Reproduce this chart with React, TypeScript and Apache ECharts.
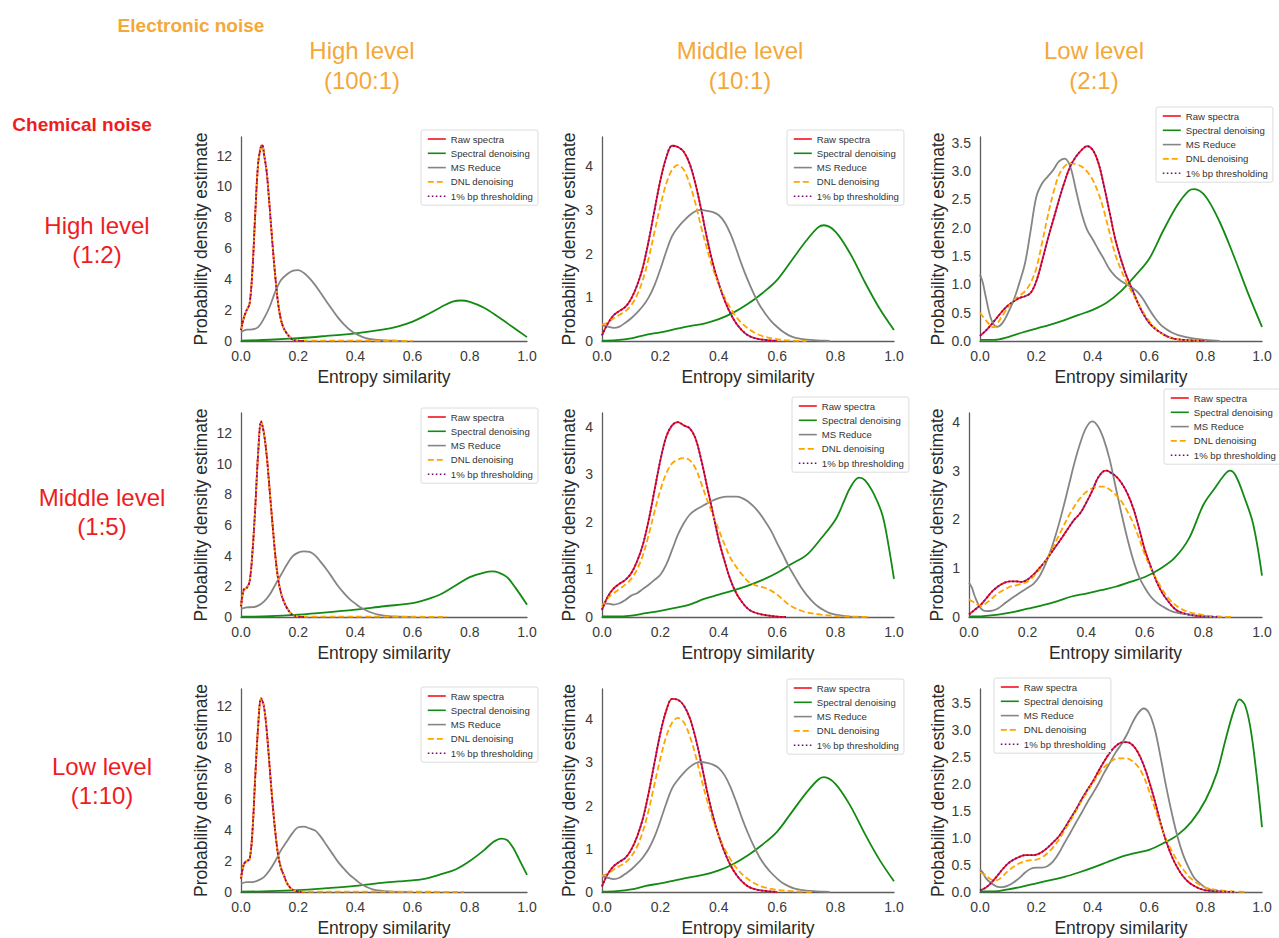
import React, { useEffect, useRef } from 'react';
import * as echarts from 'echarts';

type P = [number, number][];

const SERIES_NAMES = ['Raw spectra', 'Spectral denoising', 'MS Reduce', 'DNL denoising', '1% bp thresholding'];
const COL_TITLES = [['High level', '(100:1)'], ['Middle level', '(10:1)'], ['Low level', '(2:1)']];
const ROW_TITLES = [['High level', '(1:2)'], ['Middle level', '(1:5)'], ['Low level', '(1:10)']];
const X_NAME = 'Entropy similarity';
const Y_NAME = 'Probability density estimate';

// ---------- Row 1 (chemical noise high 1:2) ----------
const r1c1_raw: P = [[0,0.7],[0.01,1.5],[0.02,2.0],[0.03,2.4],[0.04,4.6],[0.05,8.3],[0.06,11.5],[0.07,12.6],[0.075,12.65],[0.08,12.15],[0.09,10.9],[0.1,8.7],[0.11,6.3],[0.12,4.15],[0.13,2.4],[0.14,1.35],[0.15,0.8],[0.16,0.5],[0.17,0.26],[0.18,0.1],[0.2,0.02],[0.22,0]];
const r1c1_dnl: P = [[0,0.7],[0.01,1.5],[0.02,2.0],[0.03,2.4],[0.04,4.6],[0.05,8.3],[0.06,11.5],[0.07,12.6],[0.075,12.65],[0.08,12.15],[0.09,10.9],[0.1,8.7],[0.11,6.3],[0.12,4.15],[0.13,2.4],[0.14,1.35],[0.15,0.8],[0.16,0.5],[0.17,0.26],[0.18,0.1],[0.2,0.03],[0.25,0.02],[0.4,0.02],[0.6,0.01]];
const r1c1_thr: P = r1c1_raw;
const r1c1_msr: P = [[0,0.58],[0.02,0.73],[0.04,0.75],[0.06,0.9],[0.08,1.45],[0.1,2.2],[0.12,3.2],[0.14,3.95],[0.16,4.3],[0.18,4.54],[0.2,4.58],[0.22,4.4],[0.24,4.05],[0.26,3.6],[0.28,3.07],[0.3,2.53],[0.32,2.0],[0.34,1.5],[0.36,1.08],[0.38,0.73],[0.4,0.48],[0.42,0.3],[0.44,0.17],[0.46,0.1],[0.5,0.04],[0.55,0.01],[0.58,0]];
const r1c1_spec: P = [[0,0.02],[0.1,0.08],[0.2,0.18],[0.3,0.33],[0.4,0.5],[0.5,0.75],[0.55,0.95],[0.6,1.25],[0.65,1.7],[0.7,2.2],[0.74,2.55],[0.77,2.62],[0.8,2.53],[0.85,2.15],[0.9,1.55],[0.95,0.9],[1.0,0.25]];

const r1c2_raw: P = [[0,0.13],[0.02,0.4],[0.04,0.59],[0.06,0.69],[0.08,0.78],[0.1,0.97],[0.12,1.27],[0.14,1.69],[0.16,2.3],[0.18,3.0],[0.2,3.68],[0.22,4.2],[0.24,4.47],[0.26,4.44],[0.28,4.33],[0.3,4.06],[0.32,3.6],[0.34,3.0],[0.36,2.34],[0.38,1.77],[0.4,1.31],[0.42,0.93],[0.44,0.63],[0.46,0.4],[0.48,0.24],[0.5,0.13],[0.52,0.07],[0.55,0.03],[0.6,0]];
const r1c2_dnl: P = [[0,0.38],[0.02,0.42],[0.04,0.52],[0.06,0.6],[0.08,0.68],[0.1,0.82],[0.12,1.05],[0.14,1.4],[0.16,1.9],[0.18,2.5],[0.2,3.1],[0.22,3.6],[0.24,3.92],[0.26,4.03],[0.28,3.92],[0.3,3.6],[0.32,3.15],[0.34,2.6],[0.36,2.1],[0.38,1.65],[0.4,1.3],[0.42,1.0],[0.44,0.75],[0.46,0.55],[0.48,0.4],[0.5,0.29],[0.52,0.2],[0.55,0.11],[0.6,0.04],[0.65,0.01],[0.7,0]];
const r1c2_thr: P = r1c2_raw;
const r1c2_msr: P = [[0,0.36],[0.02,0.33],[0.04,0.3],[0.06,0.33],[0.08,0.42],[0.1,0.52],[0.12,0.65],[0.14,0.8],[0.16,1.0],[0.18,1.28],[0.2,1.65],[0.22,2.05],[0.24,2.4],[0.26,2.6],[0.28,2.75],[0.3,2.88],[0.32,2.97],[0.34,3.0],[0.36,2.98],[0.38,2.95],[0.4,2.88],[0.42,2.72],[0.44,2.45],[0.46,2.1],[0.48,1.72],[0.5,1.38],[0.52,1.08],[0.54,0.82],[0.56,0.62],[0.58,0.45],[0.6,0.32],[0.62,0.21],[0.64,0.13],[0.66,0.08],[0.7,0.03],[0.75,0.01],[0.78,0]];
const r1c2_spec: P = [[0,0.01],[0.05,0.02],[0.1,0.06],[0.15,0.14],[0.2,0.2],[0.25,0.27],[0.3,0.34],[0.35,0.4],[0.4,0.5],[0.45,0.65],[0.5,0.85],[0.55,1.1],[0.6,1.4],[0.65,1.85],[0.7,2.3],[0.74,2.6],[0.76,2.65],[0.8,2.5],[0.85,2.0],[0.9,1.35],[0.95,0.75],[1.0,0.25]];

const r1c3_raw: P = [[0,0.09],[0.02,0.18],[0.04,0.29],[0.06,0.41],[0.08,0.53],[0.1,0.63],[0.12,0.7],[0.14,0.76],[0.16,0.79],[0.18,0.85],[0.2,1.06],[0.22,1.41],[0.24,1.79],[0.26,2.14],[0.28,2.49],[0.3,2.81],[0.32,3.08],[0.34,3.25],[0.36,3.37],[0.38,3.44],[0.4,3.37],[0.42,3.14],[0.44,2.73],[0.46,2.26],[0.48,1.79],[0.5,1.44],[0.52,1.14],[0.54,0.91],[0.56,0.67],[0.58,0.47],[0.6,0.32],[0.62,0.22],[0.64,0.15],[0.66,0.09],[0.68,0.05],[0.7,0.03],[0.75,0.01],[0.8,0]];
const r1c3_dnl: P = [[0,0.5],[0.02,0.37],[0.04,0.26],[0.05,0.24],[0.06,0.3],[0.08,0.45],[0.1,0.6],[0.12,0.72],[0.14,0.8],[0.16,0.88],[0.18,1.03],[0.2,1.29],[0.22,1.73],[0.24,2.2],[0.26,2.61],[0.28,2.93],[0.3,3.08],[0.32,3.14],[0.34,3.12],[0.36,3.08],[0.38,2.99],[0.4,2.84],[0.42,2.61],[0.44,2.29],[0.46,1.9],[0.48,1.52],[0.5,1.26],[0.52,1.03],[0.54,0.85],[0.56,0.67],[0.58,0.5],[0.6,0.35],[0.62,0.23],[0.64,0.15],[0.66,0.09],[0.7,0.03],[0.75,0.01],[0.8,0]];
const r1c3_thr: P = r1c3_raw;
const r1c3_msr: P = [[0,1.17],[0.01,1.03],[0.02,0.79],[0.04,0.38],[0.06,0.25],[0.08,0.32],[0.1,0.5],[0.12,0.73],[0.14,1.03],[0.16,1.38],[0.18,1.96],[0.2,2.55],[0.22,2.78],[0.24,2.9],[0.26,3.02],[0.28,3.17],[0.3,3.22],[0.32,3.08],[0.34,2.67],[0.36,2.26],[0.38,1.96],[0.4,1.79],[0.42,1.61],[0.44,1.44],[0.46,1.26],[0.48,1.14],[0.5,1.06],[0.52,1.0],[0.54,0.94],[0.56,0.86],[0.58,0.73],[0.6,0.56],[0.62,0.41],[0.64,0.29],[0.66,0.21],[0.68,0.15],[0.7,0.11],[0.75,0.05],[0.8,0.02],[0.85,0]];
const r1c3_spec: P = [[0,0.02],[0.05,0.02],[0.1,0.07],[0.15,0.15],[0.2,0.22],[0.25,0.29],[0.3,0.37],[0.35,0.46],[0.4,0.55],[0.45,0.68],[0.5,0.88],[0.55,1.15],[0.6,1.45],[0.65,1.95],[0.7,2.4],[0.74,2.65],[0.76,2.68],[0.8,2.55],[0.85,2.1],[0.9,1.5],[0.95,0.85],[1.0,0.25]];

// ---------- Row 2 (chemical noise middle 1:5) ----------
const r2c1_raw: P = [[0,0.7],[0.01,1.8],[0.02,1.9],[0.03,2.3],[0.04,4.2],[0.05,7.2],[0.06,10.7],[0.07,12.75],[0.08,12.0],[0.09,10.5],[0.1,8.3],[0.11,6.1],[0.12,4.0],[0.13,2.45],[0.14,1.55],[0.15,1.0],[0.16,0.6],[0.17,0.33],[0.18,0.15],[0.2,0.03],[0.22,0]];
const r2c1_dnl: P = [[0,0.7],[0.01,1.8],[0.02,1.9],[0.03,2.3],[0.04,4.2],[0.05,7.2],[0.06,10.7],[0.07,12.75],[0.08,12.0],[0.09,10.5],[0.1,8.3],[0.11,6.1],[0.12,4.0],[0.13,2.45],[0.14,1.55],[0.15,1.0],[0.16,0.6],[0.17,0.33],[0.18,0.15],[0.2,0.04],[0.25,0.02],[0.45,0.02],[0.72,0.01]];
const r2c1_thr: P = r2c1_raw;
const r2c1_msr: P = [[0,0.52],[0.02,0.63],[0.04,0.64],[0.06,0.74],[0.08,1.0],[0.1,1.45],[0.12,2.1],[0.14,2.75],[0.16,3.4],[0.18,3.95],[0.2,4.2],[0.22,4.28],[0.24,4.24],[0.26,4.0],[0.28,3.56],[0.3,3.08],[0.32,2.55],[0.34,2.0],[0.36,1.56],[0.38,1.17],[0.4,0.87],[0.42,0.6],[0.44,0.41],[0.46,0.26],[0.48,0.15],[0.5,0.09],[0.55,0.02],[0.6,0]];
const r2c1_spec: P = [[0,0.02],[0.1,0.05],[0.2,0.15],[0.3,0.3],[0.4,0.48],[0.5,0.7],[0.6,0.9],[0.65,1.15],[0.7,1.5],[0.75,2.05],[0.8,2.6],[0.85,2.9],[0.88,2.97],[0.9,2.9],[0.93,2.6],[0.96,1.9],[1.0,0.8]];

const r2c2_raw: P = [[0,0.15],[0.02,0.43],[0.04,0.6],[0.06,0.7],[0.08,0.78],[0.1,0.92],[0.12,1.17],[0.14,1.52],[0.16,2.04],[0.18,2.67],[0.2,3.3],[0.22,3.79],[0.24,4.03],[0.26,4.1],[0.28,4.03],[0.3,3.97],[0.32,3.76],[0.34,3.3],[0.36,2.74],[0.38,2.18],[0.4,1.62],[0.42,1.17],[0.44,0.78],[0.46,0.5],[0.48,0.31],[0.5,0.17],[0.52,0.1],[0.55,0.05],[0.6,0.01],[0.63,0]];
const r2c2_dnl: P = [[0,0.22],[0.02,0.4],[0.04,0.5],[0.06,0.59],[0.08,0.68],[0.1,0.8],[0.12,1.0],[0.14,1.3],[0.16,1.73],[0.18,2.22],[0.2,2.67],[0.22,3.02],[0.24,3.23],[0.26,3.31],[0.28,3.34],[0.3,3.3],[0.32,3.13],[0.34,2.81],[0.36,2.46],[0.38,2.15],[0.4,1.83],[0.42,1.52],[0.44,1.24],[0.46,1.05],[0.48,0.89],[0.5,0.75],[0.52,0.68],[0.54,0.64],[0.56,0.61],[0.58,0.55],[0.6,0.47],[0.62,0.36],[0.64,0.26],[0.66,0.19],[0.68,0.14],[0.7,0.1],[0.75,0.05],[0.8,0.02],[0.85,0.01],[0.92,0]];
const r2c2_thr: P = r2c2_raw;
const r2c2_msr: P = [[0,0.28],[0.02,0.28],[0.04,0.26],[0.06,0.29],[0.08,0.36],[0.1,0.45],[0.12,0.5],[0.14,0.59],[0.16,0.68],[0.18,0.78],[0.2,0.89],[0.22,1.1],[0.24,1.41],[0.26,1.73],[0.28,1.97],[0.3,2.15],[0.32,2.25],[0.34,2.32],[0.36,2.39],[0.38,2.45],[0.4,2.5],[0.43,2.53],[0.46,2.53],[0.48,2.5],[0.5,2.43],[0.52,2.32],[0.54,2.18],[0.56,2.0],[0.58,1.8],[0.6,1.55],[0.62,1.31],[0.64,1.06],[0.66,0.85],[0.68,0.64],[0.7,0.47],[0.72,0.33],[0.74,0.22],[0.76,0.14],[0.78,0.08],[0.8,0.05],[0.85,0.01],[0.9,0]];
const r2c2_spec: P = [[0,0.01],[0.05,0.01],[0.1,0.03],[0.15,0.08],[0.2,0.13],[0.25,0.19],[0.3,0.26],[0.35,0.38],[0.4,0.47],[0.45,0.56],[0.5,0.66],[0.55,0.78],[0.6,0.93],[0.65,1.12],[0.7,1.3],[0.75,1.65],[0.8,2.05],[0.83,2.45],[0.85,2.72],[0.88,2.93],[0.9,2.88],[0.93,2.6],[0.96,2.15],[0.98,1.55],[1.0,0.8]];

const r2c3_raw: P = [[0,0.05],[0.02,0.15],[0.04,0.25],[0.06,0.39],[0.08,0.53],[0.1,0.63],[0.12,0.7],[0.14,0.73],[0.16,0.73],[0.18,0.72],[0.2,0.77],[0.22,0.87],[0.24,1.0],[0.26,1.14],[0.28,1.31],[0.3,1.48],[0.32,1.65],[0.34,1.83],[0.36,2.0],[0.38,2.13],[0.4,2.34],[0.42,2.58],[0.44,2.85],[0.46,2.99],[0.47,3.0],[0.48,2.97],[0.5,2.89],[0.52,2.75],[0.54,2.54],[0.56,2.24],[0.58,1.83],[0.6,1.38],[0.62,1.04],[0.64,0.73],[0.66,0.49],[0.68,0.32],[0.7,0.18],[0.72,0.1],[0.75,0.05],[0.8,0.01],[0.85,0]];
const r2c3_dnl: P = [[0,0.36],[0.02,0.29],[0.04,0.22],[0.06,0.29],[0.08,0.39],[0.1,0.49],[0.12,0.56],[0.14,0.62],[0.16,0.65],[0.18,0.68],[0.2,0.73],[0.22,0.83],[0.24,0.97],[0.26,1.14],[0.28,1.35],[0.3,1.59],[0.32,1.83],[0.34,2.07],[0.36,2.27],[0.38,2.44],[0.4,2.56],[0.42,2.63],[0.44,2.67],[0.46,2.67],[0.48,2.61],[0.5,2.51],[0.52,2.37],[0.54,2.17],[0.56,1.93],[0.58,1.62],[0.6,1.28],[0.62,1.0],[0.64,0.77],[0.66,0.56],[0.68,0.39],[0.7,0.27],[0.72,0.18],[0.75,0.1],[0.8,0.04],[0.85,0.01],[0.9,0]];
const r2c3_thr: P = r2c3_raw;
const r2c3_msr: P = [[0,0.7],[0.01,0.6],[0.02,0.42],[0.04,0.18],[0.06,0.12],[0.08,0.13],[0.1,0.18],[0.12,0.27],[0.14,0.36],[0.16,0.44],[0.18,0.52],[0.2,0.6],[0.22,0.68],[0.24,0.83],[0.26,1.07],[0.28,1.38],[0.3,1.76],[0.32,2.2],[0.34,2.68],[0.36,3.16],[0.38,3.57],[0.4,3.88],[0.42,4.01],[0.44,3.91],[0.46,3.64],[0.48,3.23],[0.5,2.68],[0.52,2.13],[0.54,1.62],[0.56,1.18],[0.58,0.83],[0.6,0.6],[0.62,0.42],[0.64,0.3],[0.66,0.22],[0.68,0.15],[0.7,0.1],[0.75,0.05],[0.8,0.02],[0.85,0]];
const r2c3_spec: P = [[0,0.01],[0.05,0.02],[0.1,0.05],[0.15,0.1],[0.2,0.17],[0.25,0.24],[0.3,0.32],[0.35,0.42],[0.4,0.48],[0.45,0.55],[0.5,0.62],[0.55,0.72],[0.6,0.82],[0.65,0.98],[0.7,1.2],[0.75,1.6],[0.8,2.3],[0.84,2.65],[0.87,2.9],[0.89,3.0],[0.91,2.9],[0.94,2.45],[0.97,1.9],[1.0,0.85]];

// ---------- Row 3 (chemical noise low 1:10) ----------
const r3c1_raw: P = [[0,0.86],[0.01,1.8],[0.02,2.0],[0.03,2.1],[0.04,3.9],[0.05,7.5],[0.06,10.7],[0.07,12.5],[0.08,12.0],[0.09,10.4],[0.1,8.1],[0.11,5.8],[0.12,3.86],[0.13,2.36],[0.14,1.54],[0.15,1.07],[0.16,0.6],[0.17,0.32],[0.18,0.15],[0.2,0.03],[0.22,0]];
const r3c1_dnl: P = [[0,0.86],[0.01,1.8],[0.02,2.0],[0.03,2.1],[0.04,3.9],[0.05,7.5],[0.06,10.7],[0.07,12.5],[0.08,12.0],[0.09,10.4],[0.1,8.1],[0.11,5.8],[0.12,3.86],[0.13,2.36],[0.14,1.54],[0.15,1.07],[0.16,0.6],[0.17,0.32],[0.18,0.15],[0.2,0.04],[0.25,0.02],[0.5,0.02],[0.78,0.01]];
const r3c1_thr: P = r3c1_raw;
const r3c1_msr: P = [[0,0.54],[0.02,0.64],[0.04,0.64],[0.06,0.75],[0.08,0.96],[0.1,1.4],[0.12,2.0],[0.14,2.7],[0.16,3.26],[0.18,3.8],[0.2,4.18],[0.22,4.22],[0.24,4.1],[0.26,3.96],[0.28,3.54],[0.3,3.0],[0.32,2.46],[0.34,1.93],[0.36,1.5],[0.38,1.11],[0.4,0.81],[0.42,0.51],[0.44,0.32],[0.46,0.17],[0.48,0.1],[0.5,0.06],[0.55,0.01],[0.6,0]];
const r3c1_spec: P = [[0,0.02],[0.1,0.05],[0.2,0.12],[0.3,0.25],[0.4,0.4],[0.5,0.6],[0.55,0.68],[0.6,0.75],[0.65,0.88],[0.7,1.15],[0.75,1.45],[0.8,2.0],[0.85,2.7],[0.88,3.2],[0.91,3.45],[0.93,3.35],[0.95,2.9],[0.97,2.2],[1.0,1.1]];

const r3c2_raw: P = [[0,0.13],[0.02,0.42],[0.04,0.6],[0.06,0.7],[0.08,0.79],[0.1,0.98],[0.12,1.28],[0.14,1.7],[0.16,2.3],[0.18,3.0],[0.2,3.68],[0.22,4.2],[0.24,4.47],[0.26,4.45],[0.28,4.32],[0.3,4.04],[0.32,3.58],[0.34,2.98],[0.36,2.33],[0.38,1.76],[0.4,1.3],[0.42,0.92],[0.44,0.62],[0.46,0.4],[0.48,0.24],[0.5,0.13],[0.52,0.07],[0.55,0.03],[0.6,0]];
const r3c2_dnl: P = [[0,0.38],[0.02,0.42],[0.04,0.52],[0.06,0.6],[0.08,0.68],[0.1,0.82],[0.12,1.05],[0.14,1.4],[0.16,1.9],[0.18,2.5],[0.2,3.1],[0.22,3.6],[0.24,3.92],[0.26,4.03],[0.28,3.93],[0.3,3.62],[0.32,3.17],[0.34,2.62],[0.36,2.12],[0.38,1.67],[0.4,1.3],[0.42,1.0],[0.44,0.76],[0.46,0.56],[0.48,0.41],[0.5,0.3],[0.52,0.21],[0.55,0.12],[0.6,0.05],[0.65,0.02],[0.72,0]];
const r3c2_thr: P = r3c2_raw;
const r3c2_msr: P = [[0,0.36],[0.02,0.33],[0.04,0.3],[0.06,0.33],[0.08,0.42],[0.1,0.52],[0.12,0.65],[0.14,0.8],[0.16,1.0],[0.18,1.28],[0.2,1.65],[0.22,2.05],[0.24,2.4],[0.26,2.6],[0.28,2.76],[0.3,2.89],[0.32,2.98],[0.34,3.01],[0.36,2.99],[0.38,2.95],[0.4,2.87],[0.42,2.7],[0.44,2.43],[0.46,2.08],[0.48,1.7],[0.5,1.36],[0.52,1.06],[0.54,0.8],[0.56,0.6],[0.58,0.44],[0.6,0.31],[0.62,0.2],[0.64,0.13],[0.66,0.08],[0.7,0.03],[0.75,0.01],[0.78,0]];
const r3c2_spec: P = [[0,0.01],[0.05,0.02],[0.1,0.06],[0.15,0.14],[0.2,0.2],[0.25,0.27],[0.3,0.34],[0.35,0.4],[0.4,0.5],[0.45,0.65],[0.5,0.85],[0.55,1.1],[0.6,1.4],[0.65,1.85],[0.7,2.3],[0.74,2.6],[0.76,2.66],[0.8,2.5],[0.85,2.0],[0.9,1.35],[0.95,0.75],[1.0,0.25]];

const r3c3_raw: P = [[0,0.03],[0.02,0.08],[0.04,0.17],[0.06,0.29],[0.08,0.42],[0.1,0.53],[0.12,0.6],[0.14,0.65],[0.16,0.68],[0.18,0.68],[0.2,0.69],[0.22,0.74],[0.24,0.82],[0.26,0.92],[0.28,1.03],[0.3,1.18],[0.32,1.35],[0.34,1.52],[0.36,1.71],[0.38,1.88],[0.4,2.04],[0.42,2.23],[0.44,2.41],[0.46,2.57],[0.48,2.69],[0.5,2.76],[0.52,2.77],[0.54,2.72],[0.56,2.58],[0.58,2.35],[0.6,2.04],[0.62,1.68],[0.64,1.28],[0.66,0.94],[0.68,0.66],[0.7,0.45],[0.72,0.29],[0.74,0.18],[0.76,0.11],[0.78,0.06],[0.8,0.03],[0.85,0.01],[0.9,0]];
const r3c3_dnl: P = [[0,0.36],[0.02,0.31],[0.04,0.23],[0.06,0.22],[0.08,0.29],[0.1,0.39],[0.12,0.47],[0.14,0.53],[0.16,0.57],[0.18,0.59],[0.2,0.6],[0.22,0.64],[0.24,0.72],[0.26,0.83],[0.28,0.97],[0.3,1.14],[0.32,1.31],[0.34,1.49],[0.36,1.68],[0.38,1.85],[0.4,2.01],[0.42,2.17],[0.44,2.3],[0.46,2.39],[0.48,2.46],[0.5,2.47],[0.52,2.47],[0.54,2.42],[0.56,2.32],[0.58,2.14],[0.6,1.86],[0.62,1.55],[0.64,1.25],[0.66,0.97],[0.68,0.76],[0.7,0.57],[0.72,0.42],[0.74,0.29],[0.76,0.2],[0.78,0.13],[0.8,0.08],[0.85,0.03],[0.9,0.01],[0.95,0]];
const r3c3_thr: P = r3c3_raw;
const r3c3_msr: P = [[0,0.42],[0.01,0.36],[0.02,0.26],[0.04,0.16],[0.06,0.1],[0.08,0.09],[0.1,0.12],[0.12,0.18],[0.14,0.26],[0.16,0.36],[0.18,0.43],[0.2,0.45],[0.22,0.45],[0.24,0.48],[0.26,0.57],[0.28,0.72],[0.3,0.91],[0.32,1.09],[0.34,1.28],[0.36,1.46],[0.38,1.65],[0.4,1.82],[0.42,2.0],[0.44,2.2],[0.46,2.38],[0.48,2.57],[0.5,2.72],[0.52,2.9],[0.54,3.12],[0.56,3.3],[0.58,3.39],[0.6,3.3],[0.62,3.0],[0.64,2.5],[0.66,1.95],[0.68,1.46],[0.7,1.03],[0.72,0.69],[0.74,0.45],[0.76,0.26],[0.78,0.16],[0.8,0.08],[0.82,0.04],[0.85,0.01],[0.9,0]];
const r3c3_spec: P = [[0,0.01],[0.05,0.01],[0.1,0.05],[0.15,0.1],[0.2,0.16],[0.25,0.22],[0.3,0.28],[0.35,0.36],[0.4,0.45],[0.45,0.55],[0.5,0.65],[0.55,0.72],[0.6,0.78],[0.65,0.9],[0.7,1.05],[0.75,1.3],[0.8,1.7],[0.84,2.2],[0.87,2.8],[0.9,3.35],[0.92,3.56],[0.94,3.45],[0.96,3.0],[0.98,2.2],[1.0,1.2]];

// order per panel: raw, spectral, msreduce, dnl, thresholding
const PANEL_DATA: P[][] = [
  [r1c1_raw, r1c1_spec, r1c1_msr, r1c1_dnl, r1c1_thr],
  [r1c2_raw, r1c2_spec, r1c2_msr, r1c2_dnl, r1c2_thr],
  [r1c3_raw, r1c3_spec, r1c3_msr, r1c3_dnl, r1c3_thr],
  [r2c1_raw, r2c1_spec, r2c1_msr, r2c1_dnl, r2c1_thr],
  [r2c2_raw, r2c2_spec, r2c2_msr, r2c2_dnl, r2c2_thr],
  [r2c3_raw, r2c3_spec, r2c3_msr, r2c3_dnl, r2c3_thr],
  [r3c1_raw, r3c1_spec, r3c1_msr, r3c1_dnl, r3c1_thr],
  [r3c2_raw, r3c2_spec, r3c2_msr, r3c2_dnl, r3c2_thr],
  [r3c3_raw, r3c3_spec, r3c3_msr, r3c3_dnl, r3c3_thr],
];

// axis ranges per panel
const Y_MAX = [13.2, 4.67, 3.6, 13.3, 4.29, 4.18, 13.1, 4.7, 3.75];
const Y_STEP = [2, 1, 0.5, 2, 1, 1, 2, 1, 0.5];
const Y_DEC = [0, 0, 1, 0, 0, 0, 0, 0, 1];

// layout (pixels)
const LAYOUT = [
  { left: 241, top: 137, width: 286, gap: 31, lgLeft: 421, lgTop: 130 },
  { left: 602, top: 137, width: 292, gap: 24, lgLeft: 787, lgTop: 130 },
  { left: 980, top: 137, width: 282, gap: 33, lgLeft: 1156, lgTop: 107 },
  { left: 241, top: 413, width: 286, gap: 31, lgLeft: 421, lgTop: 408 },
  { left: 602, top: 413, width: 292, gap: 24, lgLeft: 792, lgTop: 397 },
  { left: 969, top: 413, width: 293, gap: 23, lgLeft: 1164, lgTop: 389 },
  { left: 241, top: 689, width: 286, gap: 31, lgLeft: 421, lgTop: 687 },
  { left: 602, top: 689, width: 292, gap: 24, lgLeft: 787, lgTop: 679 },
  { left: 980, top: 689, width: 282, gap: 33, lgLeft: 994, lgTop: 678 },
];
const PLOT_H = 204;

const FONT = '"Liberation Sans", Arial, Helvetica, sans-serif';
const STYLES = [
  { color: '#f4121e', type: 'solid' as any },
  { color: '#138a13', type: 'solid' as any },
  { color: '#858585', type: 'solid' as any },
  { color: '#ffa500', type: [6, 3] as any },
  { color: '#7a0a7a', type: [1.6, 2.4] as any },
];
const ORANGE = '#F4A83A';
const RED = '#EE1D23';

export default function App() {
  const ref = useRef<HTMLDivElement>(null);
  useEffect(() => {
    document.body.style.margin = '0';
    if (!ref.current) return;
    const chart = echarts.init(ref.current, undefined, { renderer: 'svg' });

    const grid: any[] = [];
    const xAxis: any[] = [];
    const yAxis: any[] = [];
    const series: any[] = [];
    const legend: any[] = [];

    LAYOUT.forEach((L, i) => {
      grid.push({ left: L.left, top: L.top, width: L.width, height: PLOT_H, containLabel: false });
      xAxis.push({
        type: 'value', gridIndex: i, min: 0, max: 1, interval: 0.2,
        axisLine: { show: true, lineStyle: { color: '#5c5c5c', width: 1.3 } },
        axisTick: { show: false }, splitLine: { show: false },
        axisLabel: { color: '#3a3a3a', fontSize: 14, fontFamily: FONT, margin: 8, formatter: (v: number) => v.toFixed(1) },
        name: X_NAME, nameLocation: 'middle', nameGap: 27,
        nameTextStyle: { color: '#2a2a2a', fontSize: 17.5, fontFamily: FONT },
      });
      const step = Y_STEP[i];
      const dec = Y_DEC[i];
      yAxis.push({
        type: 'value', gridIndex: i, min: 0, max: Y_MAX[i], interval: step,
        axisLine: { show: true, lineStyle: { color: '#5c5c5c', width: 1.3 } },
        axisTick: { show: false }, splitLine: { show: false },
        axisLabel: {
          color: '#3a3a3a', fontSize: 14, fontFamily: FONT, margin: 9,
          formatter: (v: number) => {
            const k = v / step;
            return Math.abs(k - Math.round(k)) < 1e-6 ? v.toFixed(dec) : '';
          },
        },
        name: Y_NAME, nameLocation: 'middle', nameGap: L.gap,
        nameTextStyle: { color: '#2a2a2a', fontSize: 17.5, fontFamily: FONT },
      });
      PANEL_DATA[i].forEach((d, s) => {
        series.push({
          type: 'line', name: SERIES_NAMES[s], xAxisIndex: i, yAxisIndex: i,
          data: d, showSymbol: false, symbol: 'none', smooth: 0.35,
          lineStyle: { color: STYLES[s].color, width: 1.8, type: STYLES[s].type },
          itemStyle: { color: STYLES[s].color },
          z: 2 + s, silent: true,
        });
      });
      legend.push({
        orient: 'vertical', left: L.lgLeft, top: L.lgTop,
        data: SERIES_NAMES, itemWidth: 18, itemHeight: 8, itemGap: 2.3,
        padding: [3, 5, 3, 6], borderColor: '#dcdcdc', borderWidth: 1, borderRadius: 2,
        backgroundColor: '#ffffff', selectedMode: false,
        textStyle: { color: '#333', fontSize: 9.6, fontFamily: FONT, lineHeight: 12 },
        lineStyle: { width: 1.6 },
        itemStyle: { opacity: 0, borderWidth: 0 },
      });
    });

    const texts: any[] = [];
    const addText = (x: number, y: number, text: string, color: string, size: number, bold = false) => {
      texts.push({
        type: 'text', x, y, silent: true,
        style: {
          text, fill: color, fontSize: size, fontFamily: FONT, fontWeight: bold ? 'bold' : 'normal',
          align: 'center', verticalAlign: 'middle', textAlign: 'center', textVerticalAlign: 'middle',
        },
      });
    };
    addText(191, 25, 'Electronic noise', ORANGE, 19, true);
    addText(82, 124, 'Chemical noise', RED, 19, true);
    const colX = [362, 740, 1094];
    COL_TITLES.forEach((t, c) => {
      addText(colX[c], 50, t[0], ORANGE, 24);
      addText(colX[c], 80, t[1], ORANGE, 24);
    });
    const rowX = [97, 102, 102];
    const rowY = [225, 497, 766];
    ROW_TITLES.forEach((t, r) => {
      addText(rowX[r], rowY[r], t[0], RED, 24);
      addText(rowX[r], rowY[r] + 29, t[1], RED, 24);
    });

    chart.setOption({
      animation: false,
      backgroundColor: '#ffffff',
      grid, xAxis, yAxis, series, legend,
      graphic: { elements: texts },
    });
    return () => chart.dispose();
  }, []);
  return <div ref={ref} style={{ width: 1279, height: 938 }} />;
}
